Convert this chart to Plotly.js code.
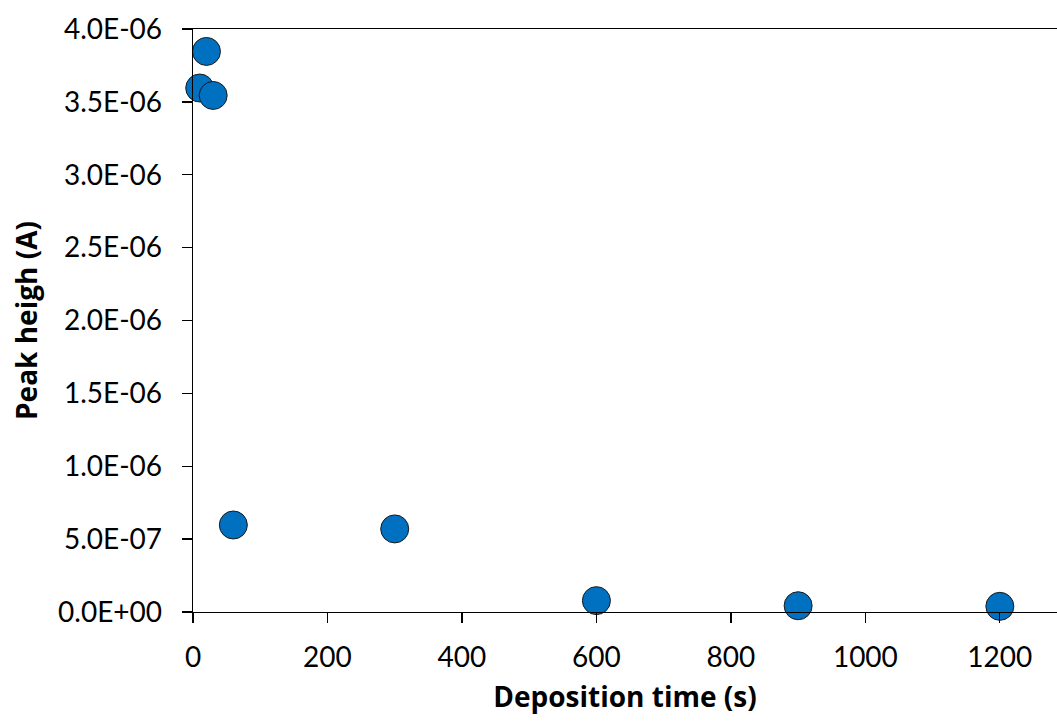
<!DOCTYPE html>
<html>
<head>
<meta charset="utf-8">
<script src="https://cdn.plot.ly/plotly-3.0.1.min.js"></script>
<style>html,body{margin:0;padding:0;background:#fff;}#chart{width:1057px;height:722px;}</style>
</head>
<body>
<div id="chart"></div>
<script>
const depositionTime = [10, 20, 30, 60, 300, 600, 900, 1200];
const peakHeight = [3.595e-6, 3.846e-6, 3.544e-6, 5.97e-7, 5.70e-7, 7.8e-8, 4.3e-8, 3.9e-8];
const xTickVals = [0, 200, 400, 600, 800, 1000, 1200];
const yTickVals = [0, 5e-7, 1e-6, 1.5e-6, 2e-6, 2.5e-6, 3e-6, 3.5e-6, 4e-6];
const yTickText = ["0.0E+00", "5.0E-07", "1.0E-06", "1.5E-06", "2.0E-06", "2.5E-06", "3.0E-06", "3.5E-06", "4.0E-06"];

const FONT = "Lato, 'Open Sans', sans-serif";
const TFONT = "'Open Sans', Lato, sans-serif";

const trace = {
  x: depositionTime,
  y: peakHeight,
  type: 'scatter',
  mode: 'markers',
  cliponaxis: false,
  marker: {size: 28, color: '#0070C0', line: {color: '#1a1a1a', width: 1}},
  hoverinfo: 'x+y'
};

const layout = {
  width: 1057, height: 722,
  margin: {l: 193, r: 0, t: 29, b: 110},
  paper_bgcolor: '#fff', plot_bgcolor: '#fff',
  showlegend: false,
  font: {family: FONT, color: '#000'},
  xaxis: {
    range: [0, 1285],
    tickvals: xTickVals,
    ticks: 'outside', ticklen: 10, tickwidth: 1.3, tickcolor: '#000',
    showline: true, linecolor: '#000', linewidth: 1.3, mirror: true,
    showgrid: false, zeroline: false,
    tickfont: {family: FONT, size: 28, color: '#000'},
    ticklabelstandoff: 10,
    title: {text: 'Deposition time (s)', font: {family: TFONT, size: 28, color: '#000', weight: 'bold'}, standoff: 15}
  },
  yaxis: {
    range: [0, 4e-6],
    tickvals: yTickVals, ticktext: yTickText,
    ticks: 'outside', ticklen: 10, tickwidth: 1.3, tickcolor: '#000',
    showline: true, linecolor: '#000', linewidth: 1.3,
    showgrid: false, zeroline: false,
    tickfont: {family: FONT, size: 28, color: '#000'},
    ticklabelstandoff: 14,
    title: {text: 'Peak heigh (A)', font: {family: TFONT, size: 28, color: '#000', weight: 'bold'}, standoff: 12}
  }
};

Plotly.newPlot('chart', [trace], layout, {displayModeBar: false, staticPlot: true});
</script>
</body>
</html>
